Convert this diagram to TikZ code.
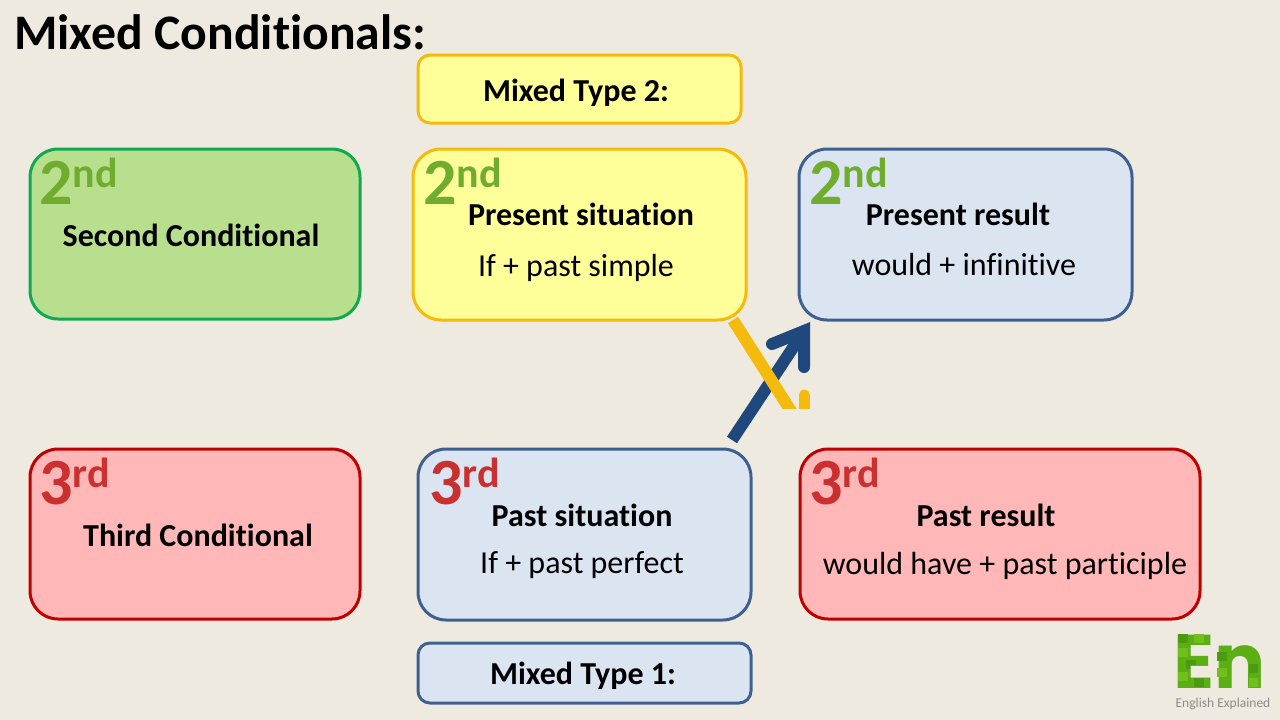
\documentclass[tikz,border=0pt]{standalone}
\usepackage{fontspec}
\setmainfont[RawFeature={-liga}]{Carlito}
\newfontfamily\logofont{Poppins}
\definecolor{bgc}{HTML}{EFEAE0}
\definecolor{greenfill}{HTML}{B7DF8E}
\definecolor{greenline}{HTML}{10A850}
\definecolor{yelfill}{HTML}{FFFF99}
\definecolor{yelline}{HTML}{F4BA0D}
\definecolor{bluefill}{HTML}{DBE5F2}
\definecolor{blueline}{HTML}{3D6090}
\definecolor{redfill}{HTML}{FFB7B7}
\definecolor{redline}{HTML}{C00000}
\definecolor{numgreen}{HTML}{70AD2F}
\definecolor{numred}{HTML}{C9302F}
\definecolor{arrowblue}{HTML}{1F497D}
\definecolor{logogreen}{HTML}{5BAE14}
\definecolor{logodark}{HTML}{4A9A12}
\definecolor{logolight}{HTML}{72BF1C}
\newcommand{\ordn}[2]{\bfseries{\fontsize{66}{66}\selectfont #1}\raisebox{17pt}{\fontsize{42}{42}\selectfont #2}}
\tikzset{
  x=1pt,y=-1pt,
  box/.style={rectangle,rounded corners=28pt,line width=3pt,inner sep=0pt,outer sep=0pt},
  smallbox/.style={rectangle,rounded corners=12pt,line width=3pt,inner sep=0pt,outer sep=0pt},
  greenbox/.style={box,draw=greenline,fill=greenfill},
  yelbox/.style={box,draw=yelline,fill=yelfill},
  bluebox/.style={box,draw=blueline,fill=bluefill},
  redbox/.style={box,draw=redline,fill=redfill},
  head/.style={font=\fontsize{32}{32}\selectfont\bfseries,inner sep=0pt,text=black},
  body/.style={font=\fontsize{32}{32}\selectfont,inner sep=0pt,text=black},
  ordgreen/.style={anchor=base west,inner sep=0pt,text=numgreen},
  ordred/.style={anchor=base west,inner sep=0pt,text=numred},
  fat/.style={line width=12pt}
}
\begin{document}
\begin{tikzpicture}
\useasboundingbox (0,0) rectangle (1280,720);
\fill[bgc] (0,0) rectangle (1280,720);
\node[anchor=base west,inner sep=0pt,font=\fontsize{49.7}{50}\selectfont\bfseries] (title) at (14,49) {Mixed Conditionals:};
% boxes
\node[smallbox,draw=yelline,fill=yelfill,minimum width=323pt,minimum height=68pt] (m2) at (579.5,89) {};
\node[greenbox,minimum width=330pt,minimum height=170pt] (a) at (195,234) {};
\node[yelbox,minimum width=333pt,minimum height=171pt] (b) at (579.5,234.5) {};
\node[bluebox,minimum width=333pt,minimum height=171pt] (c) at (965.5,234.5) {};
\node[redbox,minimum width=330pt,minimum height=170pt] (d) at (195,534) {};
\node[bluebox,minimum width=333pt,minimum height=171pt] (e) at (584.5,534.5) {};
\node[redbox,minimum width=400pt,minimum height=170pt] (f) at (1000,534) {};
\node[smallbox,draw=blueline,fill=bluefill,minimum width=333pt,minimum height=60pt] (m1) at (584.5,673) {};
% labels
\node[head] (m2t) at (576,93) {Mixed Type 2:};
\node[head] (m1t) at (583,676) {Mixed Type 1:};
\node[ordgreen] (a0) at (39,204) {\ordn{2}{nd}};
\node[ordgreen] (b0) at (423,204) {\ordn{2}{nd}};
\node[ordgreen] (c0) at (809,204) {\ordn{2}{nd}};
\node[ordred] (d0) at (39,504) {\ordn{3}{rd}};
\node[ordred] (e0) at (429,504) {\ordn{3}{rd}};
\node[ordred] (f0) at (809,504) {\ordn{3}{rd}};
\node[head] (a1) at (191,235) {Second Conditional};
\node[head] (b1) at (581,214.5) {Present situation};
\node[body] (b2) at (576,268) {If + past simple};
\node[head] (c1) at (958,214.5) {Present result};
\node[body] (c2) at (964,265) {would + infinitive};
\node[head] (d1) at (198,535) {Third Conditional};
\node[head] (e1) at (582,515) {Past situation};
\node[body] (e2) at (582,565.5) {If + past perfect};
\node[head] (f1) at (986,515) {Past result};
\node[body] (f2) at (1005,565.5) {would have + past participle};
% connectors
\coordinate (bluestart) at (732,440);
\coordinate (bluetip) at (804,331);
\coordinate (bluearma) at (772,344);
\coordinate (bluearmb) at (804,367);
\draw[arrowblue,fat] (bluestart) -- (bluetip);
\draw[arrowblue,fat,line cap=round,miter limit=10] (bluearma) -- (bluetip) -- (bluearmb);
\begin{scope}
\clip (700,300) rectangle (830,408);
\coordinate (yelstart) at (733,320);
\coordinate (yelend) at (796,419);
\coordinate (stubtop) at (804,395);
\coordinate (stubend) at (804,420);
\draw[yelline,fat] (yelstart) -- (yelend);
\draw[yelline,fat,line width=11pt,line cap=round] (stubtop) -- (stubend);
\end{scope}
% logo
\node[anchor=base west,inner sep=0pt,text=logogreen,font=\logofont\bfseries\fontsize{76}{76}\selectfont,text depth=0pt] (logo) at (1173,688) {En};
\begin{scope}
\clip (1178,634) rectangle (1190,688) (1190,634) rectangle (1208,644) (1190,656) rectangle (1206,665) (1190,678) rectangle (1208,688) (1217,650) rectangle (1228,688) (1247,660) rectangle (1258,688);
\foreach \i/\j/\c in {1178/634/logodark,1194/634/logolight,1178/648/logolight,1186/660/logodark,1178/672/logolight,1194/678/logodark,1217/652/logodark,1217/668/logolight,1249/664/logodark,1249/678/logolight}
  \fill[\c] (\i,\j) rectangle +(10,9);
\end{scope}
\node[inner sep=0pt,text=black!45,font=\fontsize{13.5}{13.5}\selectfont] (logot) at (1223,704) {English Explained};
\end{tikzpicture}
\end{document}
